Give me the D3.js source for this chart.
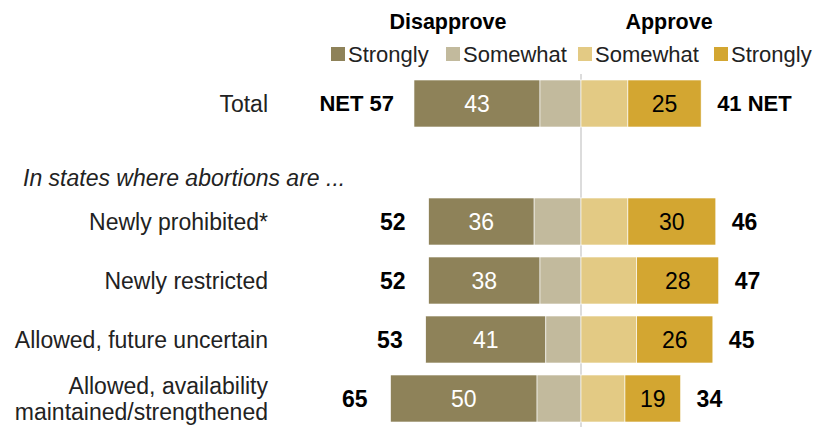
<!DOCTYPE html>
<html>
<head>
<meta charset="utf-8">
<script src="https://cdn.jsdelivr.net/npm/d3@7"></script>
<style>
  html, body { margin: 0; padding: 0; background: #fff; }
  svg { display: block; font-family: "Liberation Sans", Arial, sans-serif; }
</style>
</head>
<body>
<svg id="chart" width="823" height="427"></svg>
<script>
// Views of the Supreme Court abortion decision, by state abortion status
const categories = [
  "Total",
  "Newly prohibited*",
  "Newly restricted",
  "Allowed, future uncertain",
  "Allowed, availability maintained/strengthened"
];
const strongDisapprove = [43, 36, 38, 41, 50];
const somewhatDisapprove = [14, 16, 14, 12, 15];
const somewhatApprove = [16, 16, 19, 19, 15];
const strongApprove = [25, 30, 28, 26, 19];
const netDisapprove = [57, 52, 52, 53, 65];
const netApprove = [41, 46, 47, 45, 34];

const legendItems = ["Strongly", "Somewhat", "Somewhat", "Strongly"];
const colors = ["#8e8259", "#c2ba9d", "#e3ca84", "#d3a631"];
const groupHeader = "In states where abortions are ...";
const rowLabelLines = [
  ["Total"],
  ["Newly prohibited*"],
  ["Newly restricted"],
  ["Allowed, future uncertain"],
  ["Allowed, availability", "maintained/strengthened"]
];

const svg = d3.select("#chart");
const center = 581;
const x = d3.scaleLinear().domain([0, 100]).range([0, 293]);

// slot layout: Total, group header, then the four state groups
const slots = ["Total", "__header__"].concat(categories.slice(1));
const y = d3.scaleBand().domain(slots).range([80, 422]).paddingInner(12 / 59).paddingOuter(0);
const bw = y.bandwidth();

const rows = categories.map((c, i) => ({
  cat: c, i,
  segs: [
    { x0: center - x(strongDisapprove[i] + somewhatDisapprove[i]), w: x(strongDisapprove[i]), c: colors[0], v: strongDisapprove[i], tc: "#fff" },
    { x0: center - x(somewhatDisapprove[i]), w: x(somewhatDisapprove[i]), c: colors[1] },
    { x0: center, w: x(somewhatApprove[i]), c: colors[2] },
    { x0: center + x(somewhatApprove[i]), w: x(strongApprove[i]), c: colors[3], v: strongApprove[i], tc: "#000" }
  ]
}));

// center divider
svg.append("line")
  .attr("x1", center).attr("x2", center)
  .attr("y1", 74).attr("y2", 427)
  .attr("stroke", "#dcdcdc").attr("stroke-width", 2);

const g = svg.selectAll("g.row").data(rows).join("g").attr("class", "row")
  .attr("transform", d => `translate(0,${y(d.cat)})`);

g.selectAll("rect").data(d => d.segs).join("rect")
  .attr("x", s => s.x0).attr("y", 0)
  .attr("width", s => s.w).attr("height", bw)
  .attr("fill", s => s.c)
  .attr("stroke", "#fff").attr("stroke-width", 0.6);

g.selectAll("text.val").data(d => d.segs.filter(s => s.v != null)).join("text")
  .attr("class", "val")
  .attr("x", s => s.x0 + s.w / 2).attr("y", bw / 2)
  .attr("dy", "0.36em").attr("text-anchor", "middle")
  .attr("font-size", 23).attr("fill", s => s.tc)
  .text(s => s.v);

// net labels
g.append("text")
  .attr("x", d => center - x(netDisapprove[d.i]) - (d.i === 0 ? 20 : 23)).attr("y", bw / 2)
  .attr("dy", "0.36em").attr("text-anchor", "end")
  .attr("font-size", d => d.i === 0 ? 22 : 23).attr("font-weight", "bold")
  .text(d => d.i === 0 ? `NET ${netDisapprove[d.i]}` : netDisapprove[d.i]);

g.append("text")
  .attr("x", d => center + x(netApprove[d.i]) + 16).attr("y", bw / 2)
  .attr("dy", "0.36em").attr("text-anchor", "start")
  .attr("font-size", d => d.i === 0 ? 22 : 23).attr("font-weight", "bold")
  .text(d => d.i === 0 ? `${netApprove[d.i]} NET` : netApprove[d.i]);

// row labels
g.append("text")
  .attr("text-anchor", "end").attr("font-size", 23).attr("fill", "#222")
  .each(function(d) {
    const lines = rowLabelLines[d.i];
    const t = d3.select(this);
    const lh = 26;
    lines.forEach((ln, k) => {
      t.append("tspan").attr("x", 268)
        .attr("y", bw / 2 + (k - (lines.length - 1) / 2) * lh)
        .attr("dy", "0.36em").text(ln);
    });
  });

// group header
svg.append("text")
  .attr("x", 23).attr("y", y("__header__") + bw)
  .attr("font-size", 23).attr("font-style", "italic").attr("fill", "#222")
  .text(groupHeader);

// column titles
svg.append("text").attr("x", 448).attr("y", 29).attr("text-anchor", "middle")
  .attr("font-size", 21.5).attr("font-weight", "bold").text("Disapprove");
svg.append("text").attr("x", 669).attr("y", 29).attr("text-anchor", "middle")
  .attr("font-size", 21.5).attr("font-weight", "bold").text("Approve");

// legend
const legendX = [331, 446, 578, 714];
const lg = svg.selectAll("g.leg").data(legendItems).join("g").attr("class", "leg")
  .attr("transform", (d, i) => `translate(${legendX[i]},47)`);
lg.append("rect").attr("width", 14).attr("height", 14).attr("fill", (d, i) => colors[i]);
lg.append("text").attr("x", 17).attr("y", 7).attr("dy", "0.36em")
  .attr("font-size", 22).attr("fill", "#222").text(d => d);
</script>
</body>
</html>
